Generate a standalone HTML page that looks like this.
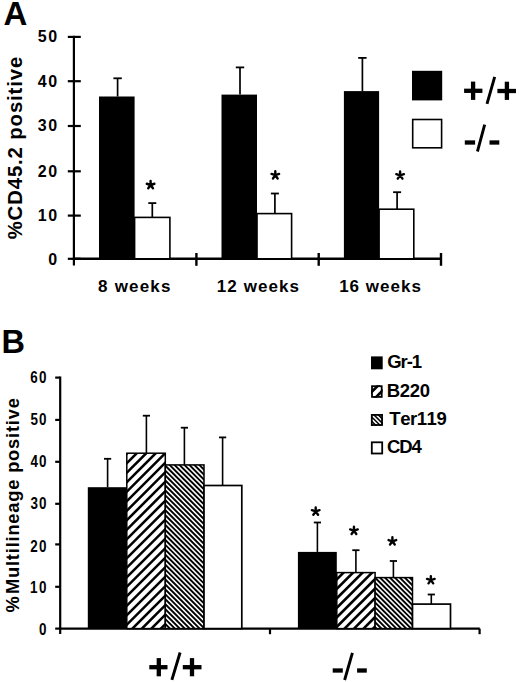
<!DOCTYPE html>
<html><head><meta charset="utf-8"><style>
html,body{margin:0;padding:0;background:#fff;}
svg{display:block;}
text{font-family:"Liberation Sans", sans-serif;font-weight:bold;fill:#000;font-kerning:none;}
</style></head><body>
<svg width="520" height="682" viewBox="0 0 520 682">
<rect x="0" y="0" width="520" height="682" fill="#fff"/>
<text x="3.40" y="24.60" font-size="33" text-anchor="start">A</text>
<text x="1.40" y="352.70" font-size="32.5" text-anchor="start">B</text>
<text transform="translate(21.80,239.31) rotate(-90)" font-size="20.3" letter-spacing="0.898">%CD45.2 positive</text>
<text x="58.66" y="264.60" font-size="16" text-anchor="end" letter-spacing="1.5">0</text>
<line x1="67.80" y1="258.80" x2="80.80" y2="258.80" stroke="#000" stroke-width="2.2"/>
<text x="58.66" y="221.20" font-size="16" text-anchor="end" letter-spacing="1.5">10</text>
<line x1="67.80" y1="215.60" x2="80.80" y2="215.60" stroke="#000" stroke-width="2.2"/>
<text x="58.66" y="176.90" font-size="16" text-anchor="end" letter-spacing="1.5">20</text>
<line x1="67.80" y1="171.30" x2="80.80" y2="171.30" stroke="#000" stroke-width="2.2"/>
<text x="58.66" y="131.10" font-size="16" text-anchor="end" letter-spacing="1.5">30</text>
<line x1="67.80" y1="126.00" x2="80.80" y2="126.00" stroke="#000" stroke-width="2.2"/>
<text x="58.66" y="87.00" font-size="16" text-anchor="end" letter-spacing="1.5">40</text>
<line x1="67.80" y1="81.20" x2="80.80" y2="81.20" stroke="#000" stroke-width="2.2"/>
<text x="58.66" y="42.10" font-size="16" text-anchor="end" letter-spacing="1.5">50</text>
<line x1="67.80" y1="36.90" x2="80.80" y2="36.90" stroke="#000" stroke-width="2.2"/>
<line x1="73.90" y1="35.80" x2="73.90" y2="265.50" stroke="#000" stroke-width="2.2"/>
<line x1="72.90" y1="258.80" x2="441.00" y2="258.80" stroke="#000" stroke-width="2.4"/>
<line x1="196.40" y1="253.00" x2="196.40" y2="265.80" stroke="#000" stroke-width="2.4"/>
<line x1="318.70" y1="253.00" x2="318.70" y2="265.80" stroke="#000" stroke-width="2.4"/>
<line x1="441.00" y1="253.00" x2="441.00" y2="265.80" stroke="#000" stroke-width="2.4"/>
<line x1="117.60" y1="78.30" x2="117.60" y2="96.50" stroke="#000" stroke-width="1.7"/>
<line x1="113.40" y1="78.30" x2="121.80" y2="78.30" stroke="#000" stroke-width="1.8"/>
<line x1="152.30" y1="203.10" x2="152.30" y2="217.40" stroke="#000" stroke-width="1.7"/>
<line x1="148.30" y1="203.10" x2="156.30" y2="203.10" stroke="#000" stroke-width="1.8"/>
<rect x="99.00" y="96.50" width="35.60" height="162.30" fill="#000"/>
<rect x="134.60" y="217.40" width="35.30" height="41.40" fill="#fff" stroke="#000" stroke-width="1.6"/>
<line x1="240.00" y1="67.40" x2="240.00" y2="94.60" stroke="#000" stroke-width="1.7"/>
<line x1="235.80" y1="67.40" x2="244.20" y2="67.40" stroke="#000" stroke-width="1.8"/>
<line x1="274.90" y1="193.50" x2="274.90" y2="213.60" stroke="#000" stroke-width="1.7"/>
<line x1="270.90" y1="193.50" x2="278.90" y2="193.50" stroke="#000" stroke-width="1.8"/>
<rect x="221.50" y="94.60" width="35.50" height="164.20" fill="#000"/>
<rect x="257.00" y="213.60" width="34.60" height="45.20" fill="#fff" stroke="#000" stroke-width="1.6"/>
<line x1="362.40" y1="57.90" x2="362.40" y2="91.10" stroke="#000" stroke-width="1.7"/>
<line x1="358.20" y1="57.90" x2="366.60" y2="57.90" stroke="#000" stroke-width="1.8"/>
<line x1="397.10" y1="192.20" x2="397.10" y2="209.20" stroke="#000" stroke-width="1.7"/>
<line x1="393.10" y1="192.20" x2="401.10" y2="192.20" stroke="#000" stroke-width="1.8"/>
<rect x="343.90" y="91.10" width="35.20" height="167.70" fill="#000"/>
<rect x="379.10" y="209.20" width="34.70" height="49.60" fill="#fff" stroke="#000" stroke-width="1.6"/>
<path d="M150.60 185.00L150.60 181.00M150.60 185.00L154.40 183.76M150.60 185.00L152.95 188.24M150.60 185.00L148.25 188.24M150.60 185.00L146.80 183.76" stroke="#000" stroke-width="2.4" stroke-linecap="round" fill="none"/>
<path d="M275.30 175.20L275.30 171.20M275.30 175.20L279.10 173.96M275.30 175.20L277.65 178.44M275.30 175.20L272.95 178.44M275.30 175.20L271.50 173.96" stroke="#000" stroke-width="2.4" stroke-linecap="round" fill="none"/>
<path d="M400.10 175.40L400.10 171.40M400.10 175.40L403.90 174.16M400.10 175.40L402.45 178.64M400.10 175.40L397.75 178.64M400.10 175.40L396.30 174.16" stroke="#000" stroke-width="2.4" stroke-linecap="round" fill="none"/>
<text x="98.06" y="291.90" font-size="17" text-anchor="start" letter-spacing="1.203">8 weeks</text>
<text x="216.83" y="291.90" font-size="17" text-anchor="start" letter-spacing="1.071">12 weeks</text>
<text x="339.13" y="291.90" font-size="17" text-anchor="start" letter-spacing="1.013">16 weeks</text>
<rect x="412.00" y="70.80" width="30.20" height="29.60" fill="#000"/>
<rect x="412.70" y="119.50" width="28.90" height="28.30" fill="#fff" stroke="#000" stroke-width="1.6"/>
<rect x="464.10" y="88.65" width="18.30" height="4.3" fill="#000"/>
<rect x="470.95" y="81.60" width="4.3" height="18.30" fill="#000"/>
<line x1="487.40" y1="102.40" x2="494.30" y2="78.20" stroke="#000" stroke-width="2.9" stroke-linecap="square"/>
<rect x="497.40" y="88.85" width="18.60" height="4.3" fill="#000"/>
<rect x="504.75" y="81.70" width="4.3" height="18.20" fill="#000"/>
<rect x="464.80" y="140.35" width="10.30" height="4.3" fill="#000"/>
<line x1="477.80" y1="150.10" x2="484.30" y2="126.10" stroke="#000" stroke-width="2.9" stroke-linecap="square"/>
<rect x="489.50" y="140.35" width="9.80" height="4.3" fill="#000"/>
<text transform="translate(18.70,612.56) rotate(-90)" font-size="18.3" letter-spacing="0.000">%</text>
<text transform="translate(18.70,594.02) rotate(-90)" font-size="18.3" letter-spacing="0.803">Multilineage positive</text>
<text transform="translate(39.40,635.14) scale(0.85,1)" x="-0.62" y="0" font-size="15.8">0</text>
<line x1="55.20" y1="628.60" x2="60.20" y2="628.60" stroke="#000" stroke-width="2.2"/>
<text transform="translate(30.80,592.89) scale(0.85,1)" x="-1.00" y="0" font-size="15.8" letter-spacing="1.834">10</text>
<line x1="55.20" y1="586.80" x2="60.20" y2="586.80" stroke="#000" stroke-width="2.2"/>
<text transform="translate(30.80,552.14) scale(0.85,1)" x="-0.55" y="0" font-size="15.8" letter-spacing="1.386">20</text>
<line x1="55.20" y1="544.40" x2="60.20" y2="544.40" stroke="#000" stroke-width="2.2"/>
<text transform="translate(30.80,509.34) scale(0.85,1)" x="-0.36" y="0" font-size="15.8" letter-spacing="1.201">30</text>
<line x1="55.20" y1="503.80" x2="60.20" y2="503.80" stroke="#000" stroke-width="2.2"/>
<text transform="translate(30.80,466.84) scale(0.85,1)" x="-0.24" y="0" font-size="15.8" letter-spacing="1.077">40</text>
<line x1="55.20" y1="461.80" x2="60.20" y2="461.80" stroke="#000" stroke-width="2.2"/>
<text transform="translate(30.80,424.79) scale(0.85,1)" x="-0.49" y="0" font-size="15.8" letter-spacing="1.324">50</text>
<line x1="55.20" y1="419.90" x2="60.20" y2="419.90" stroke="#000" stroke-width="2.2"/>
<text transform="translate(30.80,382.79) scale(0.85,1)" x="-0.58" y="0" font-size="15.8" letter-spacing="1.417">60</text>
<line x1="55.20" y1="377.60" x2="60.20" y2="377.60" stroke="#000" stroke-width="2.2"/>
<line x1="60.20" y1="376.50" x2="60.20" y2="633.90" stroke="#000" stroke-width="2.2"/>
<line x1="59.20" y1="628.60" x2="479.80" y2="628.60" stroke="#000" stroke-width="2.2"/>
<line x1="270.00" y1="628.60" x2="270.00" y2="634.20" stroke="#000" stroke-width="2.2"/>
<line x1="479.60" y1="628.60" x2="479.60" y2="634.20" stroke="#000" stroke-width="2.2"/>
<line x1="107.60" y1="458.80" x2="107.60" y2="487.20" stroke="#000" stroke-width="1.6"/>
<line x1="104.00" y1="458.80" x2="111.20" y2="458.80" stroke="#000" stroke-width="1.8"/>
<line x1="146.40" y1="415.70" x2="146.40" y2="453.20" stroke="#000" stroke-width="1.6"/>
<line x1="142.80" y1="415.70" x2="150.00" y2="415.70" stroke="#000" stroke-width="1.8"/>
<line x1="184.40" y1="427.70" x2="184.40" y2="464.90" stroke="#000" stroke-width="1.6"/>
<line x1="180.80" y1="427.70" x2="188.00" y2="427.70" stroke="#000" stroke-width="1.8"/>
<line x1="222.60" y1="437.40" x2="222.60" y2="485.50" stroke="#000" stroke-width="1.6"/>
<line x1="219.00" y1="437.40" x2="226.20" y2="437.40" stroke="#000" stroke-width="1.8"/>
<line x1="317.40" y1="522.50" x2="317.40" y2="551.90" stroke="#000" stroke-width="1.6"/>
<line x1="313.80" y1="522.50" x2="321.00" y2="522.50" stroke="#000" stroke-width="1.8"/>
<line x1="355.90" y1="550.20" x2="355.90" y2="572.60" stroke="#000" stroke-width="1.6"/>
<line x1="352.30" y1="550.20" x2="359.50" y2="550.20" stroke="#000" stroke-width="1.8"/>
<line x1="393.40" y1="561.00" x2="393.40" y2="577.60" stroke="#000" stroke-width="1.6"/>
<line x1="389.80" y1="561.00" x2="397.00" y2="561.00" stroke="#000" stroke-width="1.8"/>
<line x1="431.30" y1="594.50" x2="431.30" y2="604.10" stroke="#000" stroke-width="1.6"/>
<line x1="427.70" y1="594.50" x2="434.90" y2="594.50" stroke="#000" stroke-width="1.8"/>
<rect x="87.80" y="487.20" width="39.00" height="141.40" fill="#000"/>
<clipPath id="c1"><rect x="126.80" y="453.20" width="38.50" height="175.40"/></clipPath>
<rect x="126.80" y="453.20" width="38.50" height="175.40" fill="#fff"/>
<g clip-path="url(#c1)">
<line x1="137.80" y1="433.20" x2="-77.60" y2="648.60" stroke="#000" stroke-width="2.6"/>
<line x1="147.30" y1="433.20" x2="-68.10" y2="648.60" stroke="#000" stroke-width="2.6"/>
<line x1="156.80" y1="433.20" x2="-58.60" y2="648.60" stroke="#000" stroke-width="2.6"/>
<line x1="166.30" y1="433.20" x2="-49.10" y2="648.60" stroke="#000" stroke-width="2.6"/>
<line x1="175.80" y1="433.20" x2="-39.60" y2="648.60" stroke="#000" stroke-width="2.6"/>
<line x1="185.30" y1="433.20" x2="-30.10" y2="648.60" stroke="#000" stroke-width="2.6"/>
<line x1="194.80" y1="433.20" x2="-20.60" y2="648.60" stroke="#000" stroke-width="2.6"/>
<line x1="204.30" y1="433.20" x2="-11.10" y2="648.60" stroke="#000" stroke-width="2.6"/>
<line x1="213.80" y1="433.20" x2="-1.60" y2="648.60" stroke="#000" stroke-width="2.6"/>
<line x1="223.30" y1="433.20" x2="7.90" y2="648.60" stroke="#000" stroke-width="2.6"/>
<line x1="232.80" y1="433.20" x2="17.40" y2="648.60" stroke="#000" stroke-width="2.6"/>
<line x1="242.30" y1="433.20" x2="26.90" y2="648.60" stroke="#000" stroke-width="2.6"/>
<line x1="251.80" y1="433.20" x2="36.40" y2="648.60" stroke="#000" stroke-width="2.6"/>
<line x1="261.30" y1="433.20" x2="45.90" y2="648.60" stroke="#000" stroke-width="2.6"/>
<line x1="270.80" y1="433.20" x2="55.40" y2="648.60" stroke="#000" stroke-width="2.6"/>
<line x1="280.30" y1="433.20" x2="64.90" y2="648.60" stroke="#000" stroke-width="2.6"/>
<line x1="289.80" y1="433.20" x2="74.40" y2="648.60" stroke="#000" stroke-width="2.6"/>
<line x1="299.30" y1="433.20" x2="83.90" y2="648.60" stroke="#000" stroke-width="2.6"/>
<line x1="308.80" y1="433.20" x2="93.40" y2="648.60" stroke="#000" stroke-width="2.6"/>
<line x1="318.30" y1="433.20" x2="102.90" y2="648.60" stroke="#000" stroke-width="2.6"/>
<line x1="327.80" y1="433.20" x2="112.40" y2="648.60" stroke="#000" stroke-width="2.6"/>
<line x1="337.30" y1="433.20" x2="121.90" y2="648.60" stroke="#000" stroke-width="2.6"/>
<line x1="346.80" y1="433.20" x2="131.40" y2="648.60" stroke="#000" stroke-width="2.6"/>
<line x1="356.30" y1="433.20" x2="140.90" y2="648.60" stroke="#000" stroke-width="2.6"/>
<line x1="365.80" y1="433.20" x2="150.40" y2="648.60" stroke="#000" stroke-width="2.6"/>
</g>
<rect x="126.80" y="453.20" width="38.50" height="175.40" fill="none" stroke="#000" stroke-width="1.5"/>
<clipPath id="c2"><rect x="165.30" y="464.90" width="38.70" height="163.70"/></clipPath>
<rect x="165.30" y="464.90" width="38.70" height="163.70" fill="#fff"/>
<g clip-path="url(#c2)">
<line x1="-38.55" y1="444.90" x2="165.15" y2="648.60" stroke="#000" stroke-width="1.9"/>
<line x1="-33.60" y1="444.90" x2="170.10" y2="648.60" stroke="#000" stroke-width="1.9"/>
<line x1="-28.65" y1="444.90" x2="175.05" y2="648.60" stroke="#000" stroke-width="1.9"/>
<line x1="-23.70" y1="444.90" x2="180.00" y2="648.60" stroke="#000" stroke-width="1.9"/>
<line x1="-18.75" y1="444.90" x2="184.95" y2="648.60" stroke="#000" stroke-width="1.9"/>
<line x1="-13.80" y1="444.90" x2="189.90" y2="648.60" stroke="#000" stroke-width="1.9"/>
<line x1="-8.85" y1="444.90" x2="194.85" y2="648.60" stroke="#000" stroke-width="1.9"/>
<line x1="-3.90" y1="444.90" x2="199.80" y2="648.60" stroke="#000" stroke-width="1.9"/>
<line x1="1.05" y1="444.90" x2="204.75" y2="648.60" stroke="#000" stroke-width="1.9"/>
<line x1="6.00" y1="444.90" x2="209.70" y2="648.60" stroke="#000" stroke-width="1.9"/>
<line x1="10.95" y1="444.90" x2="214.65" y2="648.60" stroke="#000" stroke-width="1.9"/>
<line x1="15.90" y1="444.90" x2="219.60" y2="648.60" stroke="#000" stroke-width="1.9"/>
<line x1="20.85" y1="444.90" x2="224.55" y2="648.60" stroke="#000" stroke-width="1.9"/>
<line x1="25.80" y1="444.90" x2="229.50" y2="648.60" stroke="#000" stroke-width="1.9"/>
<line x1="30.75" y1="444.90" x2="234.45" y2="648.60" stroke="#000" stroke-width="1.9"/>
<line x1="35.70" y1="444.90" x2="239.40" y2="648.60" stroke="#000" stroke-width="1.9"/>
<line x1="40.65" y1="444.90" x2="244.35" y2="648.60" stroke="#000" stroke-width="1.9"/>
<line x1="45.60" y1="444.90" x2="249.30" y2="648.60" stroke="#000" stroke-width="1.9"/>
<line x1="50.55" y1="444.90" x2="254.25" y2="648.60" stroke="#000" stroke-width="1.9"/>
<line x1="55.50" y1="444.90" x2="259.20" y2="648.60" stroke="#000" stroke-width="1.9"/>
<line x1="60.45" y1="444.90" x2="264.15" y2="648.60" stroke="#000" stroke-width="1.9"/>
<line x1="65.40" y1="444.90" x2="269.10" y2="648.60" stroke="#000" stroke-width="1.9"/>
<line x1="70.35" y1="444.90" x2="274.05" y2="648.60" stroke="#000" stroke-width="1.9"/>
<line x1="75.30" y1="444.90" x2="279.00" y2="648.60" stroke="#000" stroke-width="1.9"/>
<line x1="80.25" y1="444.90" x2="283.95" y2="648.60" stroke="#000" stroke-width="1.9"/>
<line x1="85.20" y1="444.90" x2="288.90" y2="648.60" stroke="#000" stroke-width="1.9"/>
<line x1="90.15" y1="444.90" x2="293.85" y2="648.60" stroke="#000" stroke-width="1.9"/>
<line x1="95.10" y1="444.90" x2="298.80" y2="648.60" stroke="#000" stroke-width="1.9"/>
<line x1="100.05" y1="444.90" x2="303.75" y2="648.60" stroke="#000" stroke-width="1.9"/>
<line x1="105.00" y1="444.90" x2="308.70" y2="648.60" stroke="#000" stroke-width="1.9"/>
<line x1="109.95" y1="444.90" x2="313.65" y2="648.60" stroke="#000" stroke-width="1.9"/>
<line x1="114.90" y1="444.90" x2="318.60" y2="648.60" stroke="#000" stroke-width="1.9"/>
<line x1="119.85" y1="444.90" x2="323.55" y2="648.60" stroke="#000" stroke-width="1.9"/>
<line x1="124.80" y1="444.90" x2="328.50" y2="648.60" stroke="#000" stroke-width="1.9"/>
<line x1="129.75" y1="444.90" x2="333.45" y2="648.60" stroke="#000" stroke-width="1.9"/>
<line x1="134.70" y1="444.90" x2="338.40" y2="648.60" stroke="#000" stroke-width="1.9"/>
<line x1="139.65" y1="444.90" x2="343.35" y2="648.60" stroke="#000" stroke-width="1.9"/>
<line x1="144.60" y1="444.90" x2="348.30" y2="648.60" stroke="#000" stroke-width="1.9"/>
<line x1="149.55" y1="444.90" x2="353.25" y2="648.60" stroke="#000" stroke-width="1.9"/>
<line x1="154.50" y1="444.90" x2="358.20" y2="648.60" stroke="#000" stroke-width="1.9"/>
<line x1="159.45" y1="444.90" x2="363.15" y2="648.60" stroke="#000" stroke-width="1.9"/>
<line x1="164.40" y1="444.90" x2="368.10" y2="648.60" stroke="#000" stroke-width="1.9"/>
<line x1="169.35" y1="444.90" x2="373.05" y2="648.60" stroke="#000" stroke-width="1.9"/>
<line x1="174.30" y1="444.90" x2="378.00" y2="648.60" stroke="#000" stroke-width="1.9"/>
<line x1="179.25" y1="444.90" x2="382.95" y2="648.60" stroke="#000" stroke-width="1.9"/>
<line x1="184.20" y1="444.90" x2="387.90" y2="648.60" stroke="#000" stroke-width="1.9"/>
<line x1="189.15" y1="444.90" x2="392.85" y2="648.60" stroke="#000" stroke-width="1.9"/>
<line x1="194.10" y1="444.90" x2="397.80" y2="648.60" stroke="#000" stroke-width="1.9"/>
<line x1="199.05" y1="444.90" x2="402.75" y2="648.60" stroke="#000" stroke-width="1.9"/>
<line x1="204.00" y1="444.90" x2="407.70" y2="648.60" stroke="#000" stroke-width="1.9"/>
<line x1="208.95" y1="444.90" x2="412.65" y2="648.60" stroke="#000" stroke-width="1.9"/>
</g>
<rect x="165.30" y="464.90" width="38.70" height="163.70" fill="none" stroke="#000" stroke-width="1.5"/>
<rect x="204.00" y="485.50" width="37.80" height="143.10" fill="#fff" stroke="#000" stroke-width="1.7"/>
<rect x="297.90" y="551.90" width="38.90" height="76.70" fill="#000"/>
<clipPath id="c3"><rect x="336.80" y="572.60" width="38.30" height="56.00"/></clipPath>
<rect x="336.80" y="572.60" width="38.30" height="56.00" fill="#fff"/>
<g clip-path="url(#c3)">
<line x1="354.10" y1="552.60" x2="258.10" y2="648.60" stroke="#000" stroke-width="2.6"/>
<line x1="363.60" y1="552.60" x2="267.60" y2="648.60" stroke="#000" stroke-width="2.6"/>
<line x1="373.10" y1="552.60" x2="277.10" y2="648.60" stroke="#000" stroke-width="2.6"/>
<line x1="382.60" y1="552.60" x2="286.60" y2="648.60" stroke="#000" stroke-width="2.6"/>
<line x1="392.10" y1="552.60" x2="296.10" y2="648.60" stroke="#000" stroke-width="2.6"/>
<line x1="401.60" y1="552.60" x2="305.60" y2="648.60" stroke="#000" stroke-width="2.6"/>
<line x1="411.10" y1="552.60" x2="315.10" y2="648.60" stroke="#000" stroke-width="2.6"/>
<line x1="420.60" y1="552.60" x2="324.60" y2="648.60" stroke="#000" stroke-width="2.6"/>
<line x1="430.10" y1="552.60" x2="334.10" y2="648.60" stroke="#000" stroke-width="2.6"/>
<line x1="439.60" y1="552.60" x2="343.60" y2="648.60" stroke="#000" stroke-width="2.6"/>
<line x1="449.10" y1="552.60" x2="353.10" y2="648.60" stroke="#000" stroke-width="2.6"/>
<line x1="458.60" y1="552.60" x2="362.60" y2="648.60" stroke="#000" stroke-width="2.6"/>
</g>
<rect x="336.80" y="572.60" width="38.30" height="56.00" fill="none" stroke="#000" stroke-width="1.5"/>
<clipPath id="c4"><rect x="375.10" y="577.60" width="37.40" height="51.00"/></clipPath>
<rect x="375.10" y="577.60" width="37.40" height="51.00" fill="#fff"/>
<g clip-path="url(#c4)">
<line x1="280.80" y1="557.60" x2="371.80" y2="648.60" stroke="#000" stroke-width="1.9"/>
<line x1="285.75" y1="557.60" x2="376.75" y2="648.60" stroke="#000" stroke-width="1.9"/>
<line x1="290.70" y1="557.60" x2="381.70" y2="648.60" stroke="#000" stroke-width="1.9"/>
<line x1="295.65" y1="557.60" x2="386.65" y2="648.60" stroke="#000" stroke-width="1.9"/>
<line x1="300.60" y1="557.60" x2="391.60" y2="648.60" stroke="#000" stroke-width="1.9"/>
<line x1="305.55" y1="557.60" x2="396.55" y2="648.60" stroke="#000" stroke-width="1.9"/>
<line x1="310.50" y1="557.60" x2="401.50" y2="648.60" stroke="#000" stroke-width="1.9"/>
<line x1="315.45" y1="557.60" x2="406.45" y2="648.60" stroke="#000" stroke-width="1.9"/>
<line x1="320.40" y1="557.60" x2="411.40" y2="648.60" stroke="#000" stroke-width="1.9"/>
<line x1="325.35" y1="557.60" x2="416.35" y2="648.60" stroke="#000" stroke-width="1.9"/>
<line x1="330.30" y1="557.60" x2="421.30" y2="648.60" stroke="#000" stroke-width="1.9"/>
<line x1="335.25" y1="557.60" x2="426.25" y2="648.60" stroke="#000" stroke-width="1.9"/>
<line x1="340.20" y1="557.60" x2="431.20" y2="648.60" stroke="#000" stroke-width="1.9"/>
<line x1="345.15" y1="557.60" x2="436.15" y2="648.60" stroke="#000" stroke-width="1.9"/>
<line x1="350.10" y1="557.60" x2="441.10" y2="648.60" stroke="#000" stroke-width="1.9"/>
<line x1="355.05" y1="557.60" x2="446.05" y2="648.60" stroke="#000" stroke-width="1.9"/>
<line x1="360.00" y1="557.60" x2="451.00" y2="648.60" stroke="#000" stroke-width="1.9"/>
<line x1="364.95" y1="557.60" x2="455.95" y2="648.60" stroke="#000" stroke-width="1.9"/>
<line x1="369.90" y1="557.60" x2="460.90" y2="648.60" stroke="#000" stroke-width="1.9"/>
<line x1="374.85" y1="557.60" x2="465.85" y2="648.60" stroke="#000" stroke-width="1.9"/>
<line x1="379.80" y1="557.60" x2="470.80" y2="648.60" stroke="#000" stroke-width="1.9"/>
<line x1="384.75" y1="557.60" x2="475.75" y2="648.60" stroke="#000" stroke-width="1.9"/>
<line x1="389.70" y1="557.60" x2="480.70" y2="648.60" stroke="#000" stroke-width="1.9"/>
<line x1="394.65" y1="557.60" x2="485.65" y2="648.60" stroke="#000" stroke-width="1.9"/>
<line x1="399.60" y1="557.60" x2="490.60" y2="648.60" stroke="#000" stroke-width="1.9"/>
<line x1="404.55" y1="557.60" x2="495.55" y2="648.60" stroke="#000" stroke-width="1.9"/>
<line x1="409.50" y1="557.60" x2="500.50" y2="648.60" stroke="#000" stroke-width="1.9"/>
<line x1="414.45" y1="557.60" x2="505.45" y2="648.60" stroke="#000" stroke-width="1.9"/>
</g>
<rect x="375.10" y="577.60" width="37.40" height="51.00" fill="none" stroke="#000" stroke-width="1.5"/>
<rect x="412.50" y="604.10" width="38.00" height="24.50" fill="#fff" stroke="#000" stroke-width="1.7"/>
<path d="M315.70 511.45L315.70 507.45M315.70 511.45L319.50 510.21M315.70 511.45L318.05 514.69M315.70 511.45L313.35 514.69M315.70 511.45L311.90 510.21" stroke="#000" stroke-width="2.4" stroke-linecap="round" fill="none"/>
<path d="M353.95 530.70L353.95 526.70M353.95 530.70L357.75 529.46M353.95 530.70L356.30 533.94M353.95 530.70L351.60 533.94M353.95 530.70L350.15 529.46" stroke="#000" stroke-width="2.4" stroke-linecap="round" fill="none"/>
<path d="M392.40 541.30L392.40 537.30M392.40 541.30L396.20 540.06M392.40 541.30L394.75 544.54M392.40 541.30L390.05 544.54M392.40 541.30L388.60 540.06" stroke="#000" stroke-width="2.4" stroke-linecap="round" fill="none"/>
<path d="M430.85 580.10L430.85 576.10M430.85 580.10L434.65 578.86M430.85 580.10L433.20 583.34M430.85 580.10L428.50 583.34M430.85 580.10L427.05 578.86" stroke="#000" stroke-width="2.4" stroke-linecap="round" fill="none"/>
<rect x="149.30" y="665.05" width="18.20" height="4.3" fill="#000"/>
<rect x="156.65" y="658.10" width="4.3" height="18.20" fill="#000"/>
<line x1="172.30" y1="678.50" x2="179.70" y2="653.90" stroke="#000" stroke-width="2.9" stroke-linecap="square"/>
<rect x="182.80" y="665.05" width="18.70" height="4.3" fill="#000"/>
<rect x="189.85" y="658.10" width="4.3" height="18.20" fill="#000"/>
<rect x="332.70" y="668.35" width="10.10" height="4.3" fill="#000"/>
<line x1="345.00" y1="678.60" x2="352.00" y2="654.20" stroke="#000" stroke-width="2.9" stroke-linecap="square"/>
<rect x="357.10" y="668.35" width="9.70" height="4.3" fill="#000"/>
<rect x="371.00" y="356.40" width="11.70" height="12.90" fill="#000"/>
<text x="387.14" y="367.80" font-size="18.5" text-anchor="start" letter-spacing="-1.022">Gr-1</text>
<clipPath id="c5"><rect x="371.10" y="385.30" width="11.50" height="12.50"/></clipPath>
<rect x="371.10" y="385.30" width="11.50" height="12.50" fill="#fff"/>
<g clip-path="url(#c5)">
<line x1="374.85" y1="379.30" x2="350.35" y2="403.80" stroke="#000" stroke-width="2.6"/>
<line x1="384.35" y1="379.30" x2="359.85" y2="403.80" stroke="#000" stroke-width="2.6"/>
<line x1="393.85" y1="379.30" x2="369.35" y2="403.80" stroke="#000" stroke-width="2.6"/>
<line x1="403.35" y1="379.30" x2="378.85" y2="403.80" stroke="#000" stroke-width="2.6"/>
</g>
<rect x="372.00" y="386.20" width="9.70" height="10.70" fill="none" stroke="#000" stroke-width="1.8"/>
<text x="386.86" y="396.60" font-size="18.5" text-anchor="start" letter-spacing="-0.377">B220</text>
<clipPath id="c6"><rect x="370.90" y="414.00" width="12.00" height="11.90"/></clipPath>
<rect x="370.90" y="414.00" width="12.00" height="11.90" fill="#fff"/>
<g clip-path="url(#c6)">
<line x1="345.60" y1="408.00" x2="369.50" y2="431.90" stroke="#000" stroke-width="1.5"/>
<line x1="349.90" y1="408.00" x2="373.80" y2="431.90" stroke="#000" stroke-width="1.5"/>
<line x1="354.20" y1="408.00" x2="378.10" y2="431.90" stroke="#000" stroke-width="1.5"/>
<line x1="358.50" y1="408.00" x2="382.40" y2="431.90" stroke="#000" stroke-width="1.5"/>
<line x1="362.80" y1="408.00" x2="386.70" y2="431.90" stroke="#000" stroke-width="1.5"/>
<line x1="367.10" y1="408.00" x2="391.00" y2="431.90" stroke="#000" stroke-width="1.5"/>
<line x1="371.40" y1="408.00" x2="395.30" y2="431.90" stroke="#000" stroke-width="1.5"/>
<line x1="375.70" y1="408.00" x2="399.60" y2="431.90" stroke="#000" stroke-width="1.5"/>
<line x1="380.00" y1="408.00" x2="403.90" y2="431.90" stroke="#000" stroke-width="1.5"/>
<line x1="384.30" y1="408.00" x2="408.20" y2="431.90" stroke="#000" stroke-width="1.5"/>
<line x1="388.60" y1="408.00" x2="412.50" y2="431.90" stroke="#000" stroke-width="1.5"/>
</g>
<rect x="371.80" y="414.90" width="10.20" height="10.10" fill="none" stroke="#000" stroke-width="1.8"/>
<text x="389.29" y="425.00" font-size="18.5" text-anchor="start" letter-spacing="-0.452">Ter119</text>
<rect x="371.80" y="442.30" width="10.40" height="11.20" fill="#fff" stroke="#000" stroke-width="1.8"/>
<text x="387.04" y="453.00" font-size="18.5" text-anchor="start" letter-spacing="-1.075">CD4</text>
</svg>
</body></html>
